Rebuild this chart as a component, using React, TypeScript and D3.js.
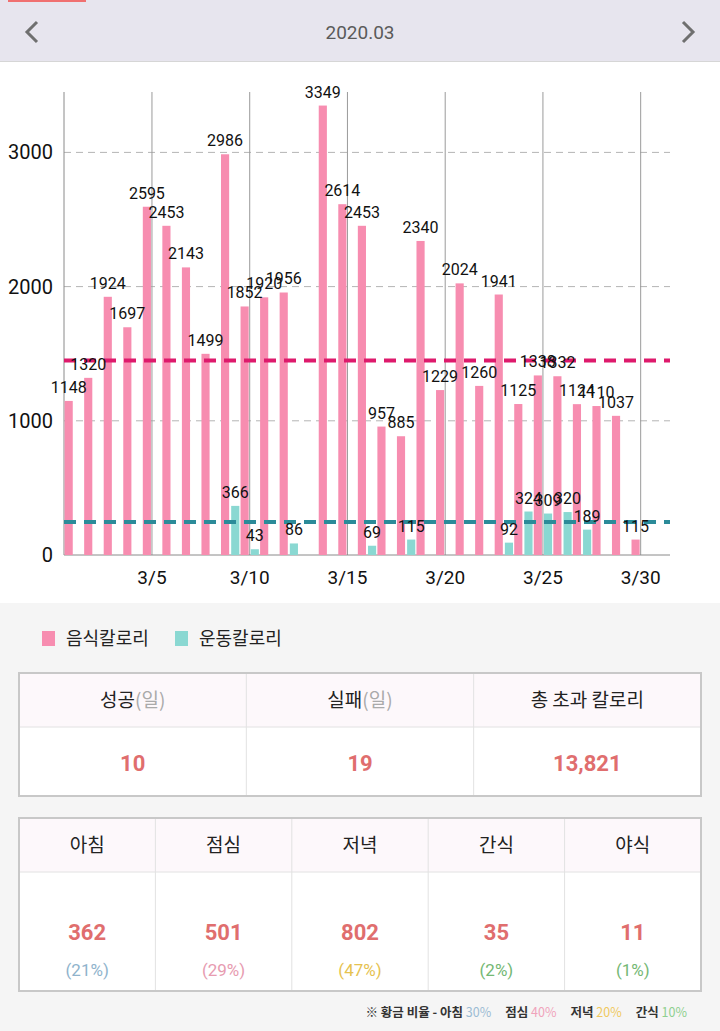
import React, { useEffect, useRef } from "react";
import * as d3 from "d3";

// 2020.03 daily calories
const days = ["1", "2", "3", "4", "5", "6", "7", "8", "9", "10", "11", "12", "13", "14", "15", "16",
  "17", "18", "19", "20", "21", "22", "23", "24", "25", "26", "27", "28", "29", "30", "31"];
const foodKcal = [1148, 1320, 1924, 1697, 2595, 2453, 2143, 1499, 2986, 1852, 1920, 1956, null, 3349, 2614, 2453,
  957, 885, 2340, 1229, 2024, 1260, 1941, 1125, 1338, 1332, 1124, 1110, 1037, 115, null];
const exerciseKcal = [null, null, null, null, null, null, null, null, 366, 43, null, 86, null, null, null, 69,
  null, 115, null, null, null, null, 92, 324, 309, 320, 189, null, null, null, null];
const yTicks = [0, 1000, 2000, 3000];
const xTickDays = ["5", "10", "15", "20", "25", "30"];
const foodAvg = 1450;
const exerciseAvg = 245;

const legendNames = ["음식칼로리", "운동칼로리"];

const summaryHeads = ["성공", "실패", "총 초과 칼로리"];
const summaryUnits = ["(일)", "(일)", ""];
const summaryValues = ["10", "19", "13,821"];

const mealNames = ["아침", "점심", "저녁", "간식", "야식"];
const mealKcal = [362, 501, 802, 35, 11];
const mealPct = ["(21%)", "(29%)", "(47%)", "(2%)", "(1%)"];

const goldenNames = ["아침", "점심", "저녁", "간식"];
const goldenPct = ["30%", "40%", "20%", "10%"];

const FOOD = "#f78db0";
const EXER = "#8ad8d2";
const pctColors = ["#8fb3cc", "#e79bb0", "#e6c250", "#74b874", "#74b874"];
const goldenColors = ["#9cbcd4", "#f0a3bb", "#f0c95e", "#8fd08f"];
const KR = "'Noto Sans CJK KR', 'Noto Sans', sans-serif";
const NUM = "Roboto, 'Noto Sans', sans-serif";

const Chart = () => {
  const gRef = useRef(null);

  useEffect(() => {
    const g = d3.select(gRef.current);
    const left = 64, right = 670, top = 92, bottom = 555;

    const x = d3.scaleBand().domain(days).range([left, right]).padding(0);
    const xSub = d3.scaleBand().domain(["food", "exercise"]).range([0, x.bandwidth()])
      .paddingInner(0.2).paddingOuter(0.06);
    const y = d3.scaleLinear().domain([0, 3450]).range([bottom, top]);
    const cx = (d) => x(d) + x.bandwidth() / 2;

    // 가로 점선 그리드
    g.selectAll(".hgrid")
      .data(yTicks.filter(t => t > 0))
      .enter().append("line")
      .attr("x1", left).attr("x2", right)
      .attr("y1", d => y(d)).attr("y2", d => y(d))
      .attr("stroke", "#b4b4b4")
      .attr("stroke-dasharray", "7,5");

    // 세로 그리드
    g.selectAll(".vgrid")
      .data(xTickDays)
      .enter().append("line")
      .attr("x1", d => cx(d)).attr("x2", d => cx(d))
      .attr("y1", top).attr("y2", bottom)
      .attr("stroke", "#9a9a9a");

    g.append("line").attr("x1", left).attr("x2", left).attr("y1", top).attr("y2", bottom)
      .attr("stroke", "#8a8a8a");
    g.append("line").attr("x1", left).attr("x2", right).attr("y1", bottom).attr("y2", bottom)
      .attr("stroke", "#8a8a8a");

    // 막대
    const food = days.map((d, i) => ({ d, v: foodKcal[i] })).filter(o => o.v != null);
    const exer = days.map((d, i) => ({ d, v: exerciseKcal[i] })).filter(o => o.v != null);

    g.selectAll(".food")
      .data(food)
      .enter().append("rect")
      .attr("x", o => x(o.d) + xSub("food"))
      .attr("width", xSub.bandwidth())
      .attr("y", o => y(o.v))
      .attr("height", o => bottom - y(o.v))
      .attr("fill", FOOD);

    g.selectAll(".exer")
      .data(exer)
      .enter().append("rect")
      .attr("x", o => x(o.d) + xSub("exercise"))
      .attr("width", xSub.bandwidth())
      .attr("y", o => y(o.v))
      .attr("height", o => bottom - y(o.v))
      .attr("fill", EXER);

    // 평균선
    g.append("line")
      .attr("x1", left).attr("x2", right)
      .attr("y1", y(foodAvg)).attr("y2", y(foodAvg))
      .attr("stroke", "#de1a6c").attr("stroke-width", 4)
      .attr("stroke-dasharray", "12,8");
    g.append("line")
      .attr("x1", left).attr("x2", right)
      .attr("y1", y(exerciseAvg)).attr("y2", y(exerciseAvg))
      .attr("stroke", "#2b8b99").attr("stroke-width", 4)
      .attr("stroke-dasharray", "12,8");

    // 값 라벨
    const labelOf = (sel, key) => sel
      .enter().append("text")
      .attr("x", o => x(o.d) + xSub(key) + xSub.bandwidth() / 2)
      .attr("y", o => y(o.v) - 8)
      .attr("text-anchor", "middle")
      .attr("font-family", NUM)
      .style("font-size", "16px")
      .attr("fill", "#111")
      .text(o => o.v);
    labelOf(g.selectAll(".flab").data(food), "food");
    labelOf(g.selectAll(".elab").data(exer), "exercise");

    // 축 라벨
    g.selectAll(".ytick")
      .data(yTicks)
      .enter().append("text")
      .attr("x", 53)
      .attr("y", d => y(d) + 7)
      .attr("text-anchor", "end")
      .attr("font-family", NUM)
      .style("font-size", "20px")
      .attr("fill", "#111")
      .text(d => d);

    g.selectAll(".xtick")
      .data(xTickDays)
      .enter().append("text")
      .attr("x", d => cx(d))
      .attr("y", 584)
      .attr("text-anchor", "middle")
      .attr("font-family", NUM)
      .style("font-size", "19px")
      .attr("fill", "#111")
      .text(d => "3/" + d);

    return () => {
      g.selectAll("*").remove();
    };
  }, []);

  return <g ref={gRef}></g>;
};

const App = () => {
  const t1 = { x: 19, w: 682, top: 673, mid: 727, bottom: 796 };
  const t2 = { x: 19, w: 682, top: 818, mid: 872, bottom: 991 };
  const c1 = t1.w / summaryHeads.length;
  const c2 = t2.w / mealNames.length;

  return (
    <svg width={720} height={1031} style={{ position: "absolute", left: 0, top: 0 }}>
      <rect x={0} y={0} width={720} height={1031} fill="#f5f5f5" />
      <rect x={0} y={62} width={720} height={541} fill="#fff" />

      {/* 상단 월 선택 */}
      <rect x={0} y={0} width={720} height={62} fill="#e7e5ee" />
      <line x1={0} x2={720} y1={61.5} y2={61.5} stroke="#d6d6d6" />
      <rect x={8} y={0} width={78} height={2} fill="#f07070" />
      <polyline points="37,22 27,32 37,42" fill="none" stroke="#6f6f6f" strokeWidth={3} />
      <polyline points="683,22 693,32 683,42" fill="none" stroke="#6f6f6f" strokeWidth={3} />
      <text x={360} y={39} textAnchor="middle" fontFamily={NUM} fontSize={19} fill="#5a5a5a">2020.03</text>

      <Chart />

      {/* 범례 */}
      {legendNames.map((n, i) => (
        <g key={n} transform={`translate(${42 + i * 133},0)`}>
          <rect x={0} y={631} width={13} height={15} fill={i === 0 ? FOOD : EXER} />
          <text x={24} y={645} fontFamily={KR} fontSize={18} fill="#222">{n}</text>
        </g>
      ))}

      {/* 요약 표 */}
      <rect x={t1.x} y={t1.top} width={t1.w} height={t1.mid - t1.top} fill="#fdf8fb" />
      <rect x={t1.x} y={t1.mid} width={t1.w} height={t1.bottom - t1.mid} fill="#fff" />
      <line x1={t1.x} x2={t1.x + t1.w} y1={t1.mid} y2={t1.mid} stroke="#e2e2e2" />
      {summaryHeads.map((h, i) => (
        <g key={h}>
          {i > 0 && <line x1={t1.x + c1 * i} x2={t1.x + c1 * i} y1={t1.top} y2={t1.bottom} stroke="#e2e2e2" />}
          <text x={t1.x + c1 * (i + 0.5)} y={707} textAnchor="middle" fontFamily={KR} fontSize={19} fill="#222">
            {h}<tspan fill="#aaa">{summaryUnits[i]}</tspan>
          </text>
          <text x={t1.x + c1 * (i + 0.5)} y={771} textAnchor="middle" fontFamily={NUM} fontWeight="bold"
            fontSize={22} fill="#e06e6e">{summaryValues[i]}</text>
        </g>
      ))}
      <rect x={t1.x} y={t1.top} width={t1.w} height={t1.bottom - t1.top} fill="none" stroke="#c8c8c8" strokeWidth={2} />

      {/* 끼니별 표 */}
      <rect x={t2.x} y={t2.top} width={t2.w} height={t2.mid - t2.top} fill="#fdf8fb" />
      <rect x={t2.x} y={t2.mid} width={t2.w} height={t2.bottom - t2.mid} fill="#fff" />
      <line x1={t2.x} x2={t2.x + t2.w} y1={t2.mid} y2={t2.mid} stroke="#e2e2e2" />
      {mealNames.map((m, i) => (
        <g key={m}>
          {i > 0 && <line x1={t2.x + c2 * i} x2={t2.x + c2 * i} y1={t2.top} y2={t2.bottom} stroke="#e2e2e2" />}
          <text x={t2.x + c2 * (i + 0.5)} y={852} textAnchor="middle" fontFamily={KR} fontSize={19} fill="#222">{m}</text>
          <text x={t2.x + c2 * (i + 0.5)} y={940} textAnchor="middle" fontFamily={NUM} fontWeight="bold"
            fontSize={22} fill="#e06e6e">{mealKcal[i]}</text>
          <text x={t2.x + c2 * (i + 0.5)} y={976} textAnchor="middle" fontFamily={NUM}
            fontSize={17} fill={pctColors[i]}>{mealPct[i]}</text>
        </g>
      ))}
      <rect x={t2.x} y={t2.top} width={t2.w} height={t2.bottom - t2.top} fill="none" stroke="#c8c8c8" strokeWidth={2} />

      {/* 황금 비율 */}
      <text x={687} y={1017} textAnchor="end" fontFamily={KR} fontSize={12.5} fill="#333" fontWeight="bold">
        ※ 황금 비율 - {goldenNames.map((n, i) => (
          <tspan key={n} dx={i > 0 ? 14 : 0}>{n} <tspan fill={goldenColors[i]} fontWeight="normal">{goldenPct[i]}</tspan></tspan>
        ))}
      </text>
    </svg>
  );
};

export default App;
